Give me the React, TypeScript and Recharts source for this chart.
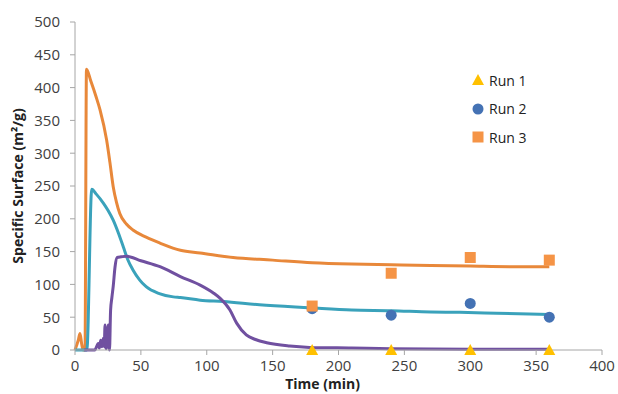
import {
  ComposedChart,
  Line,
  Scatter,
  XAxis,
  YAxis,
  Legend,
} from 'recharts';

// model curves (time in min, specific surface in m2/g)
const run3CurveX = [0, 2.5, 3.8, 5, 6.2, 7.6, 8.7, 12, 16, 19, 24, 26.5, 29, 31.5, 34, 39, 44, 54, 64.5, 80, 95, 120, 150, 180, 210, 240, 270, 300, 330, 360];
const run3CurveY = [0, 15, 25, 10, 0, 0, 428, 410, 386, 366, 320, 286, 249, 225, 208, 192, 183, 172, 163, 152, 148, 141, 137, 133, 131, 130, 129, 128, 127, 127];

const run2CurveX = [0, 9, 12.7, 16, 21.5, 25, 29, 33, 36.7, 40, 44, 49, 54, 64, 74.6, 80, 95, 112.6, 140, 178, 210, 240, 270, 292, 320, 360];
const run2CurveY = [0, 0, 245, 238, 224, 213, 198, 178, 157, 138, 122, 107, 96.5, 86, 81, 80, 76, 74, 69, 64.5, 61, 60, 58, 57.5, 56, 54];

const run1CurveX = [7, 15, 17.7, 18.5, 19.5, 20.5, 21.5, 22.2, 22.8, 23.5, 24.5, 25.3, 26.2, 27, 28, 29, 30.4, 32, 35, 39, 50, 64.5, 80, 95, 105, 110, 117.6, 122.7, 130, 137, 145.5, 163, 178, 210, 240, 300, 360];
const run1CurveY = [0, 0, 10, 3, 15, 5, 18, 5, 38, 2, 10, 38, 0, 60, 80, 97, 127, 141, 142, 143, 136, 127, 112, 99, 87, 79, 61, 41, 23, 16, 11, 6, 4, 3, 2, 1, 1];

// measured points
const sampleTimes = [180, 240, 300, 360];
const run1Points = [0, 0, 0, 0];
const run2Points = [63, 53, 71, 50];
const run3Points = [67, 117, 141, 137];

const xTicks = [0, 50, 100, 150, 200, 250, 300, 350, 400];
const yTicks = [0, 50, 100, 150, 200, 250, 300, 350, 400, 450, 500];

const zip = (xs: number[], ys: number[]) => xs.map((x, i) => ({ x, y: ys[i] }));

const run3Curve = zip(run3CurveX, run3CurveY);
const run2Curve = zip(run2CurveX, run2CurveY);
const run1Curve = zip(run1CurveX, run1CurveY);
const run1Data = zip(sampleTimes, run1Points);
const run2Data = zip(sampleTimes, run2Points);
const run3Data = zip(sampleTimes, run3Points);

const FONT = '"Open Sans", sans-serif';
const TEXT = '#404040';
const AXIS = '#a6a6a6';

const Triangle = ({ cx, cy, fill }: any) => (
  <polygon points={`${cx},${cy - 6} ${cx + 6},${cy + 5} ${cx - 6},${cy + 5}`} fill={fill} />
);
const Dot = ({ cx, cy, fill }: any) => <circle cx={cx} cy={cy} r={5.5} fill={fill} />;
const Square = ({ cx, cy, fill }: any) => (
  <rect x={cx - 5.5} y={cy - 5.5} width={11} height={11} fill={fill} />
);

const legendItems = [
  { name: 'Run 1', color: '#ffc000', Icon: Triangle },
  { name: 'Run 2', color: '#4472b4', Icon: Dot },
  { name: 'Run 3', color: '#f59446', Icon: Square },
];

function ChartLegend() {
  return (
    <div style={{ fontFamily: FONT, fontSize: 14, color: '#222' }}>
      {legendItems.map(({ name, color, Icon }) => (
        <div key={name} style={{ display: 'flex', alignItems: 'center', height: 28.5 }}>
          <svg width={14} height={14} style={{ marginRight: 4 }}>
            <Icon cx={7} cy={7} fill={color} />
          </svg>
          <span>{name}</span>
        </div>
      ))}
    </div>
  );
}

export default function App() {
  return (
    <div style={{ position: 'absolute', left: 0, top: 0, background: '#fff' }}>
      <ComposedChart width={618} height={394} margin={{ top: 22, right: 16, left: 0, bottom: 0 }}>
        <XAxis
          type="number"
          dataKey="x"
          domain={[0, 400]}
          ticks={xTicks}
          height={44}
          tick={{ fill: TEXT, fontSize: 15, fontFamily: FONT }}
          tickSize={5}
          tickMargin={5}
          axisLine={{ stroke: AXIS }}
          tickLine={{ stroke: AXIS }}
          label={{
            value: 'Time (min)',
            position: 'insideBottom',
            offset: 5,
            dx: -16,
            style: { fontFamily: FONT, fontSize: 14, fontWeight: 700, fill: '#222' },
          }}
        />
        <YAxis
          type="number"
          dataKey="y"
          domain={[0, 500]}
          ticks={yTicks}
          width={75}
          tick={{ fill: TEXT, fontSize: 15, fontFamily: FONT }}
          tickSize={5}
          tickMargin={10}
          axisLine={{ stroke: AXIS }}
          tickLine={{ stroke: AXIS }}
          label={{
            value: 'Specific Surface (m²/g)',
            angle: -90,
            position: 'insideLeft',
            offset: 18,
            style: { textAnchor: 'middle', fontFamily: FONT, fontSize: 14, fontWeight: 700, fill: '#222' },
          }}
        />
        <Legend
          layout="horizontal"
          align="center"
          verticalAlign="middle"
          wrapperStyle={{ position: 'absolute', left: 471, top: 66, width: 'auto' }}
          content={() => <ChartLegend />}
        />
        <Line data={run3Curve} dataKey="y" type="monotone" stroke="#e8883a" strokeWidth={3} dot={false} legendType="none" isAnimationActive={false} />
        <Line data={run2Curve} dataKey="y" type="monotone" stroke="#3aa2bb" strokeWidth={3} dot={false} legendType="none" isAnimationActive={false} />
        <Line data={run1Curve} dataKey="y" type="monotone" stroke="#7050a0" strokeWidth={3} dot={false} legendType="none" isAnimationActive={false} />
        <Scatter name="Run 1" data={run1Data} fill="#ffc000" shape={<Triangle />} isAnimationActive={false} />
        <Scatter name="Run 2" data={run2Data} fill="#4472b4" shape={<Dot />} isAnimationActive={false} />
        <Scatter name="Run 3" data={run3Data} fill="#f59446" shape={<Square />} isAnimationActive={false} />
      </ComposedChart>
    </div>
  );
}
